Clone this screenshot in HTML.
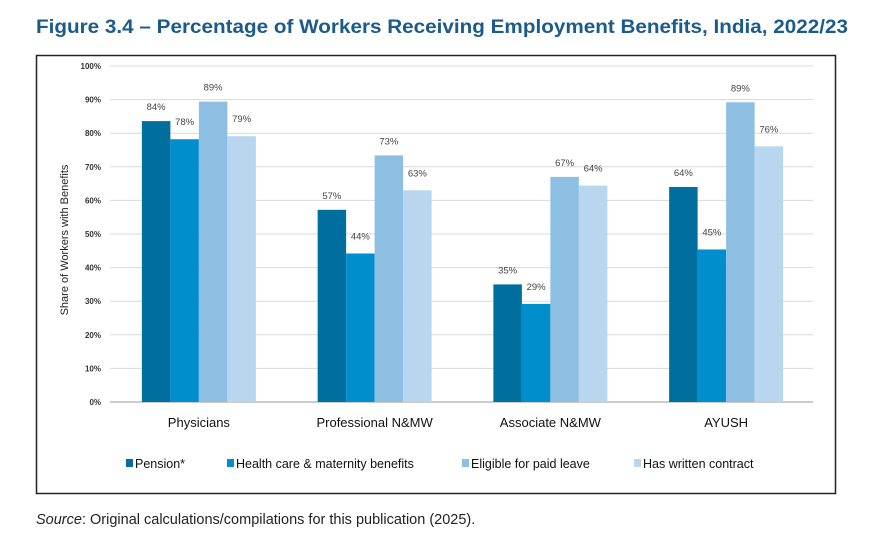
<!DOCTYPE html>
<html><head><meta charset="utf-8"><style>
body{margin:0;background:#fff;width:892px;height:533px;overflow:hidden;font-family:"Liberation Sans",sans-serif}
</style></head><body>
<svg width="892" height="533" xmlns="http://www.w3.org/2000/svg" font-family="Liberation Sans, sans-serif">
<text x="36" y="33" font-size="19.5" font-weight="bold" fill="#1b5b8c" textLength="812" lengthAdjust="spacingAndGlyphs">Figure 3.4 – Percentage of Workers Receiving Employment Benefits, India, 2022/23</text>
<rect x="36.5" y="55.5" width="799" height="438" fill="none" stroke="#222" stroke-width="1.5"/>
<g id="grid"></g><g id="bars"></g><g id="labels"></g>
<text transform="translate(68,240) rotate(-90)" text-anchor="middle" font-size="11" fill="#222">Share of Workers with Benefits</text>
<g id="legend"></g>
<text x="36" y="524" font-size="14.5" fill="#222"><tspan font-style="italic">Source</tspan>: Original calculations/compilations for this publication (2025).</text>
</svg>
<script>
const categories=["Physicians","Professional N&MW","Associate N&MW","AYUSH"];
const seriesNames=["Pension*","Health care & maternity benefits","Eligible for paid leave","Has written contract"];
const pension=[83.6,57.2,35,64];
const health=[78.2,44.2,29.2,45.4];
const leave=[89.4,73.4,67,89.2];
const contract=[79.1,63,64.4,76.1];
const yTicks=[0,10,20,30,40,50,60,70,80,90,100];
const colors=["#006fa0","#008fcc","#8dbfe3","#b8d6ee"];
const series=[pension,health,leave,contract];
const NS="http://www.w3.org/2000/svg";
const x0=110,x1=813,y0=402,y100=66;
const y=v=>y0-(y0-y100)*v/100;
const bw=28.5,gw=(x1-x0)/categories.length;
const cx=i=>x0+gw*(i+0.5)+1;
function mk(t,a,p){const e=document.createElementNS(NS,t);for(const k in a)e.setAttribute(k,a[k]);p.appendChild(e);return e;}
const grid=document.getElementById('grid');
yTicks.forEach(t=>{
  const l=mk('line',{x1:x0,x2:x1,y1:y(t),y2:y(t),stroke:t===0?'#bbb':'#d9d9d9','stroke-width':t===0?1.5:1},grid);
  
  
  const tx=mk('text',{x:101,y:y(t)+3,'text-anchor':'end','font-size':8,'font-weight':'bold',fill:'#333'},grid);
  tx.textContent=t+'%';
  
  
});
const bars=document.getElementById('bars'),labels=document.getElementById('labels');
categories.forEach((c,i)=>{
  series.forEach((s,j)=>{
    const bx=cx(i)-2*bw+j*bw;
    const r=mk('rect',{x:bx,y:y(s[i]),width:bw,height:y0-y(s[i]),fill:colors[j]},bars);
    
    
    const t=mk('text',{x:bx+bw/2,y:y(s[i])-(j%2?14:11),'text-anchor':'middle','font-size':9.5,fill:'#444'},labels);
    t.textContent=Math.round(s[i])+'%';
    
    
  });
  const t=mk('text',{x:cx(i),y:427,'text-anchor':'middle','font-size':13,fill:'#111'},labels);
  t.textContent=c;
  
  
});
const lg=document.getElementById('legend');
const lx=[126,227,462,634];
seriesNames.forEach((n,j)=>{
  const g=mk('g',{},lg);
  
  
  mk('rect',{x:lx[j],y:459,width:7,height:8,fill:colors[j]},g);
  const t=mk('text',{x:lx[j]+9,y:468,'font-size':12.5,fill:'#111'},g);
  t.textContent=n;
});
</script>
</body></html>
